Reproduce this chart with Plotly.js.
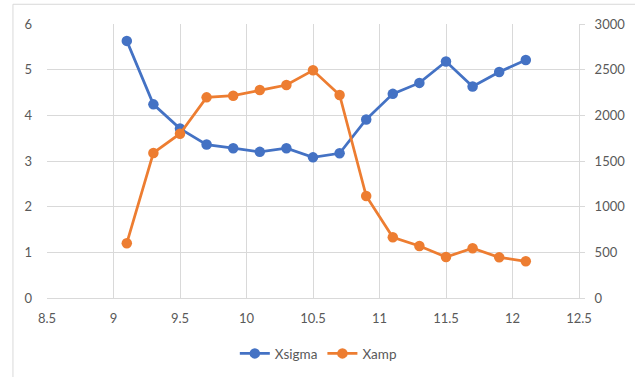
<!DOCTYPE html>
<html>
<head>
<meta charset="utf-8">
<script src="https://cdn.plot.ly/plotly-3.0.1.min.js"></script>
<style>
  html, body { margin: 0; padding: 0; background: #fff; }
  #chart { width: 635px; height: 377px; }
</style>
</head>
<body>
<div id="chart"></div>
<script>
// Position (x) shared by both series
const xValues = [9.1, 9.3, 9.5, 9.7, 9.9, 10.1, 10.3, 10.5, 10.7, 10.9, 11.1, 11.3, 11.5, 11.7, 11.9, 12.1];
// Left axis series
const xsigma = [5.63, 4.24, 3.71, 3.36, 3.28, 3.20, 3.28, 3.08, 3.17, 3.91, 4.47, 4.71, 5.18, 4.63, 4.95, 5.21];
// Right axis series
const xamp = [600, 1588, 1799, 2197, 2215, 2277, 2332, 2493, 2223, 1117, 665, 569, 449, 544, 445, 402];

const xTicks = [8.5, 9, 9.5, 10, 10.5, 11, 11.5, 12, 12.5];
const leftTicks = [0, 1, 2, 3, 4, 5, 6];
const rightTicks = [0, 500, 1000, 1500, 2000, 2500, 3000];

const gridColor = '#d9d9d9';
const textColor = '#595959';
const fontFamily = 'Lato, "Open Sans", sans-serif';

const traces = [
  {
    x: xValues, y: xsigma, name: 'Xsigma', type: 'scatter', mode: 'lines+markers',
    line: { color: '#4472C4', width: 2.75 },
    marker: { color: '#4472C4', size: 10.5 },
    yaxis: 'y'
  },
  {
    x: xValues, y: xamp, name: 'Xamp', type: 'scatter', mode: 'lines+markers',
    line: { color: '#ED7D31', width: 2.75 },
    marker: { color: '#ED7D31', size: 10.5 },
    yaxis: 'y2'
  }
];

const layout = {
  width: 635, height: 377,
  margin: { l: 47, r: 56, t: 24, b: 79, autoexpand: false },
  paper_bgcolor: '#fff', plot_bgcolor: '#fff',
  font: { family: fontFamily, size: 13, color: textColor },
  showlegend: true,
  legend: {
    orientation: 'h', x: 0.51, xanchor: 'center',
    yref: 'container', y: 0.062, yanchor: 'middle',
    font: { size: 13.5, color: textColor }, itemwidth: 30
  },
  xaxis: {
    range: [8.5, 12.5], tickvals: xTicks, ticktext: xTicks.map(String),
    showgrid: true, gridcolor: gridColor, gridwidth: 1,
    showline: true, linecolor: gridColor, linewidth: 1,
    zeroline: false, ticks: '', ticklabelstandoff: 8, fixedrange: true, automargin: false
  },
  yaxis: {
    range: [0, 6], tickvals: leftTicks, ticktext: leftTicks.map(String),
    showgrid: true, gridcolor: gridColor, gridwidth: 1,
    showline: false, zeroline: false, ticks: '', ticklabelstandoff: 14, fixedrange: true, automargin: false
  },
  yaxis2: {
    range: [0, 3000], tickvals: rightTicks, ticktext: rightTicks.map(String),
    overlaying: 'y', side: 'right', showgrid: false,
    showline: true, linecolor: gridColor, linewidth: 1,
    ticks: 'outside', ticklen: 5, tickcolor: gridColor, tickwidth: 1,
    zeroline: false, ticklabelstandoff: 7, fixedrange: true, automargin: false
  },
  shapes: [
    {
      type: 'rect', xref: 'paper', yref: 'paper',
      x0: -0.064, x1: 1.3, y0: -0.5, y1: 1.072,
      line: { color: gridColor, width: 1 }, fillcolor: 'rgba(0,0,0,0)', layer: 'below'
    }
  ]
};

Plotly.newPlot('chart', traces, layout, { displayModeBar: false, staticPlot: true });
</script>
</body>
</html>
